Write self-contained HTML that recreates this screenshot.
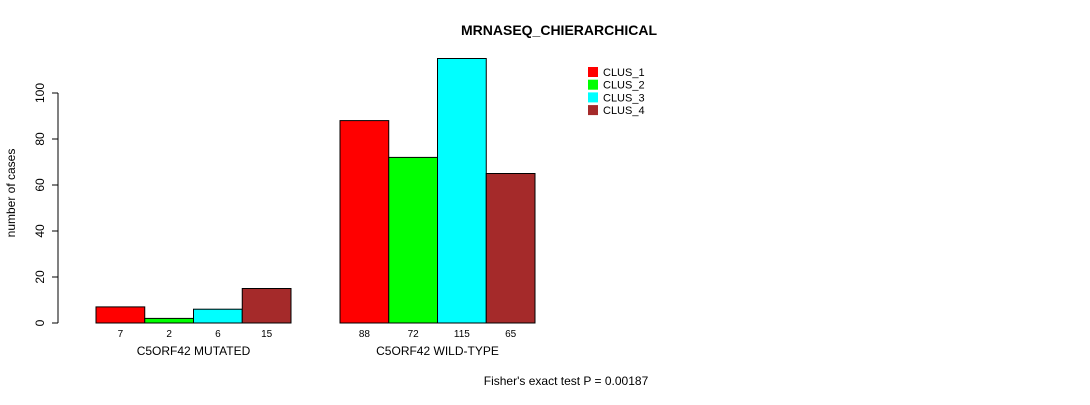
<!DOCTYPE html>
<html><head><meta charset="utf-8"><style>
body{margin:0;background:#fff;}
svg text{font-family:"Liberation Sans",sans-serif;}
</style></head><body>
<svg width="1090" height="400" xmlns="http://www.w3.org/2000/svg">
<text x="559" y="35" text-anchor="middle" font-size="14" font-weight="bold">MRNASEQ_CHIERARCHICAL</text>
<g id="yaxis"></g>
<text transform="translate(15,193) rotate(-90)" text-anchor="middle" font-size="12">number of cases</text>
<g id="bars"></g>
<g id="legend"></g>
<text x="566" y="385" text-anchor="middle" font-size="12">Fisher's exact test P = 0.00187</text>
</svg>
<script>
const groups = ["C5ORF42 MUTATED", "C5ORF42 WILD-TYPE"];
const clusters = ["CLUS_1", "CLUS_2", "CLUS_3", "CLUS_4"];
const colors = ["#ff0000", "#00ff00", "#00ffff", "#a52a2a"];
const mutated = [7, 2, 6, 15];
const wildtype = [88, 72, 115, 65];
const yTicks = [0, 20, 40, 60, 80, 100];
const series = [mutated, wildtype];
const NS = "http://www.w3.org/2000/svg";
const y = v => 323 - v * 2.3;
const groupStart = [96, 340], barW = 48.75;
function mk(tag, attrs, parent, text) {
  const e = document.createElementNS(NS, tag);
  for (const k in attrs) e.setAttribute(k, attrs[k]);
  if (text !== undefined) e.textContent = text;
  parent.appendChild(e); return e;
}
const ya = document.getElementById('yaxis');
mk('line', {x1: 58, x2: 58, y1: y(100), y2: y(0), stroke: '#000'}, ya);
yTicks.forEach(t => {
  mk('line', {x1: 52, x2: 58, y1: y(t), y2: y(t), stroke: '#000'}, ya);
  const tx = mk('text', {transform: `translate(44,${y(t)}) rotate(-90)`, 'text-anchor': 'middle', 'font-size': 12}, ya, t);
  
  
});
const bg = document.getElementById('bars');
series.forEach((vals, gi) => {
  vals.forEach((v, ci) => {
    const x = groupStart[gi] + ci * barW;
    const r = mk('rect', {x: x, y: y(v), width: barW, height: y(0) - y(v), fill: colors[ci], stroke: '#000', 'stroke-width': 1}, bg);
    
    
    const t = mk('text', {x: x + barW / 2, y: 337, 'text-anchor': 'middle', 'font-size': 10}, bg, v);
    
    
  });
  const gl = mk('text', {x: groupStart[gi] + 2 * barW, y: 355, 'text-anchor': 'middle', 'font-size': 12}, bg, groups[gi]);
  
  
});
const lg = document.getElementById('legend');
clusters.forEach((c, i) => {
  const yy = 67 + i * 12.7;
  const s = mk('rect', {x: 588, y: yy, width: 10, height: 10, fill: colors[i]}, lg);
  
  
  const t = mk('text', {x: 603, y: yy + 9, 'font-size': 11}, lg, c);
  
  
});
</script>
</body></html>
